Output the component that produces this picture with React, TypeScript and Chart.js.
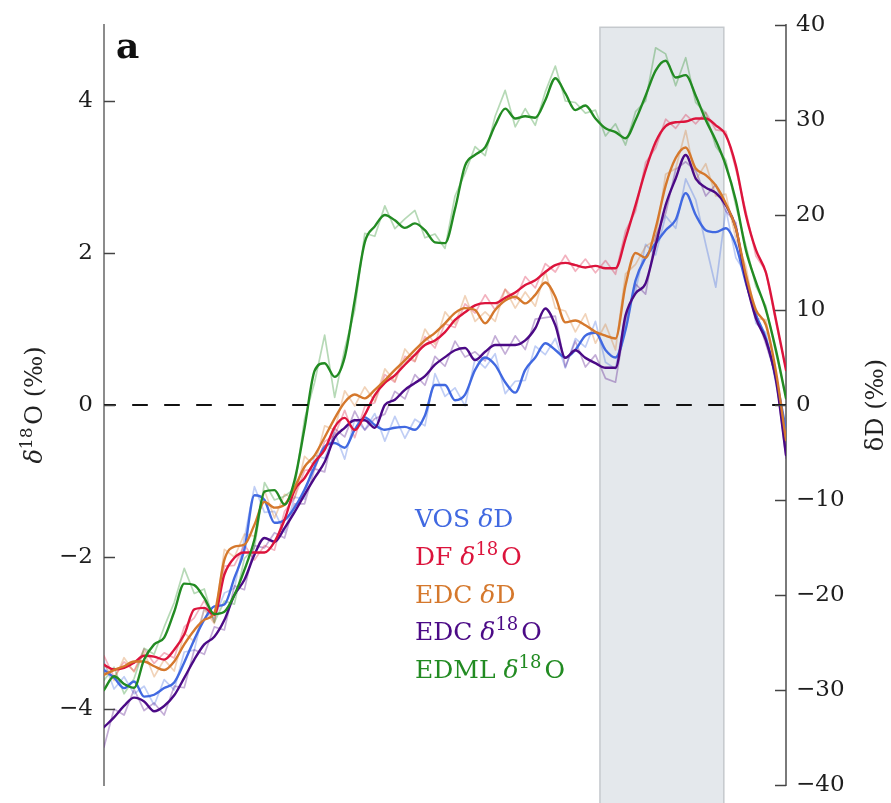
import { useEffect, useRef } from 'react';
import { Chart, registerables } from 'chart.js';

Chart.register(...registerables);

// Sample index along the record (evenly spaced, oldest on the left)
const SAMPLE = [
  0, 1, 2, 3, 4, 5, 6, 7, 8, 9, 10, 11, 12, 13, 14, 15, 16, 17, 18, 19, 20, 21, 22, 23, 24, 25, 26, 27, 28, 29, 30, 31, 32, 33, 34,
  35, 36, 37, 38, 39, 40, 41, 42, 43, 44, 45, 46, 47, 48, 49, 50, 51, 52, 53, 54, 55, 56, 57, 58, 59, 60, 61, 62, 63, 64, 65, 66, 67, 68,
];

// Shaded interval (in sample index) and its upper limit on the δ18O axis
const SHADE_SPAN = [49.45, 61.8];
const SHADE_TOP = 4.97;

const LEFT_TICKS = [-4, -2, 0, 2, 4];
const RIGHT_TICKS = [-40, -30, -20, -10, 0, 10, 20, 30, 40];

// VOS δD (‰)
const VOS_D_RAW = [
  -27.0, -29.9, -28.6, -30.4, -29.6, -31.6, -28.9, -30.0, -26.0, -25.8,
  -21.4, -22.5, -19.8, -19.3, -14.0, -8.6, -11.3, -11.2, -13.4, -9.7,
  -9.9, -5.3, -5.6, -2.9, -5.7, -1.5, -2.6, -0.9, -3.8, -1.2,
  -3.5, -1.5, -2.2, 3.3, 0.9, 1.8, -0.1, 4.9, 3.9, 5.4,
  1.2, 2.5, 2.6, 6.2, 5.3, 7.0, 3.9, 7.0, 6.1, 8.8,
  4.5, 3.8, 9.4, 12.0, 16.9, 15.8, 19.9, 18.6, 23.8, 21.6,
  16.9, 12.4, 20.6, 15.5, 13.8, 8.6, 7.6, 2.2, -3.0,
];
const VOS_D_SMOOTH = [
  -27.9, -28.7, -29.8, -29.1, -30.7, -30.5, -29.8, -29.2, -27.1, -24.7,
  -22.6, -21.2, -21.0, -18.2, -15.2, -9.5, -10.0, -12.4, -12.1, -10.8,
  -8.9, -6.5, -4.4, -4.0, -4.5, -2.6, -1.3, -2.1, -2.6, -2.4,
  -2.3, -2.6, -1.1, 2.1, 2.1, 0.5, 1.1, 3.7, 5.0, 4.2,
  2.4, 1.3, 3.7, 5.0, 6.5, 5.8, 5.0, 5.8, 7.3, 7.6,
  5.8, 5.0, 7.9, 13.1, 15.5, 17.0, 18.4, 19.5, 22.3, 20.0,
  18.4, 18.2, 18.6, 16.8, 12.9, 9.5, 7.0, 2.8, -2.6,
];

// DF δ18O (‰)
const DF_O_RAW = [
  -3.30, -3.58, -3.38, -3.50, -3.21, -3.40, -3.26, -3.33, -2.92, -2.80,
  -2.57, -2.86, -2.12, -2.11, -1.84, -2.04, -1.85, -1.91, -1.40, -1.22,
  -0.86, -0.85, -0.48, -0.40, -0.07, -0.43, -0.02, 0.03, 0.40, 0.30,
  0.64, 0.57, 0.90, 0.75, 1.07, 1.02, 1.33, 1.21, 1.45, 1.25,
  1.52, 1.39, 1.69, 1.54, 1.86, 1.75, 1.97, 1.76, 1.92, 1.74,
  1.90, 1.72, 2.29, 2.55, 3.19, 3.38, 3.76, 3.64, 3.82, 3.70,
  3.85, 3.62, 3.60, 3.10, 2.55, 1.96, 1.76, 1.08, 0.48,
];
const DF_O_SMOOTH = [
  -3.42, -3.48, -3.46, -3.39, -3.30, -3.31, -3.35, -3.22, -3.02, -2.69,
  -2.67, -2.76, -2.23, -2.01, -1.94, -1.94, -1.94, -1.80, -1.51, -1.12,
  -0.96, -0.75, -0.59, -0.29, -0.17, -0.33, -0.13, 0.13, 0.29, 0.39,
  0.53, 0.66, 0.79, 0.85, 0.96, 1.12, 1.22, 1.31, 1.34, 1.34,
  1.41, 1.48, 1.58, 1.64, 1.75, 1.84, 1.87, 1.84, 1.81, 1.83,
  1.80, 1.80, 2.19, 2.63, 3.09, 3.46, 3.67, 3.72, 3.73, 3.77,
  3.77, 3.68, 3.55, 3.15, 2.50, 2.04, 1.74, 1.12, 0.46,
];

// EDC δD (‰)
const EDC_D_RAW = [
  -27.2, -29.0, -26.6, -28.1, -26.0, -28.6, -26.8, -28.0, -24.0, -24.9,
  -21.5, -23.0, -15.2, -16.0, -13.6, -13.8, -9.0, -11.9, -9.4, -9.8,
  -5.4, -6.4, -2.2, -2.6, 1.5, -0.1, 1.9, 0.4, 3.8, 2.5,
  5.9, 4.6, 8.0, 6.4, 9.8, 8.5, 11.5, 8.8, 9.8, 8.8,
  12.2, 10.2, 11.9, 10.4, 14.1, 10.2, 9.9, 7.7, 9.6, 6.5,
  8.5, 5.8, 13.8, 14.8, 16.7, 17.4, 24.3, 24.9, 28.9, 23.7,
  25.4, 22.0, 22.2, 17.5, 14.6, 9.1, 9.0, 3.0, -4.0,
];
const EDC_D_SMOOTH = [
  -28.4, -27.9, -27.5, -27.0, -27.0, -27.5, -27.9, -27.0, -25.2, -23.7,
  -22.6, -21.9, -16.3, -14.9, -14.7, -12.6, -10.2, -10.8, -10.5, -8.7,
  -6.5, -5.3, -3.4, -1.4, 0.3, 1.1, 0.7, 1.6, 2.6, 3.7,
  4.7, 5.8, 6.8, 7.6, 8.6, 9.7, 10.2, 10.0, 8.6, 10.0,
  11.0, 11.4, 10.7, 11.6, 12.9, 11.4, 8.7, 8.9, 8.4, 7.7,
  7.3, 7.0, 12.6, 16.0, 15.5, 18.6, 23.1, 26.0, 27.1, 24.9,
  24.2, 23.1, 21.2, 18.6, 13.7, 10.0, 8.4, 3.5, -3.7,
];

// EDC δ18O (‰)
const EDC_O_RAW = [
  -4.50, -4.00, -4.08, -3.74, -4.02, -3.92, -4.08, -3.70, -3.72, -3.22,
  -3.28, -2.92, -2.96, -2.38, -2.43, -1.85, -1.88, -1.68, -1.75, -1.30,
  -1.30, -0.84, -0.88, -0.31, -0.42, -0.08, -0.33, -0.18, -0.12, 0.18,
  0.08, 0.40, 0.26, 0.64, 0.51, 0.84, 0.63, 0.70, 0.58, 0.91,
  0.67, 0.91, 0.73, 1.13, 1.15, 1.17, 0.50, 0.84, 0.50, 0.66,
  0.35, 0.30, 1.10, 1.59, 1.46, 2.22, 2.52, 3.10, 3.20, 3.08,
  2.75, 2.90, 2.55, 2.40, 1.58, 1.20, 0.80, 0.38, -0.70,
];
const EDC_O_SMOOTH = [
  -4.24, -4.11, -3.96, -3.85, -3.90, -4.03, -3.96, -3.82, -3.59, -3.35,
  -3.15, -3.05, -2.83, -2.50, -2.30, -1.97, -1.75, -1.80, -1.62, -1.41,
  -1.18, -0.96, -0.75, -0.43, -0.30, -0.20, -0.20, -0.30, 0.00, 0.07,
  0.20, 0.29, 0.38, 0.53, 0.63, 0.72, 0.75, 0.59, 0.70, 0.79,
  0.79, 0.79, 0.85, 1.01, 1.27, 1.05, 0.62, 0.72, 0.62, 0.55,
  0.49, 0.49, 1.18, 1.47, 1.60, 2.10, 2.63, 2.98, 3.29, 2.98,
  2.86, 2.79, 2.63, 2.33, 1.64, 1.14, 0.85, 0.33, -0.66,
];

// EDML δ18O (‰)
const EDML_O_RAW = [
  -3.62, -3.45, -3.80, -3.60, -3.20, -3.28, -2.92, -2.60, -2.15, -2.48,
  -2.42, -2.86, -2.58, -2.62, -2.02, -1.88, -1.02, -1.25, -1.20, -1.10,
  -0.18, 0.30, 0.92, 0.10, 0.74, 1.25, 2.26, 2.22, 2.62, 2.32,
  2.45, 2.56, 2.20, 2.25, 2.06, 2.75, 3.05, 3.40, 3.28, 3.80,
  4.14, 3.66, 3.90, 3.68, 4.12, 4.46, 4.00, 3.98, 3.84, 3.88,
  3.54, 3.70, 3.42, 3.86, 4.00, 4.70, 4.62, 4.20, 4.57, 3.98,
  3.84, 3.40, 3.22, 2.62, 2.10, 1.56, 1.30, 0.68, 0.12,
];
const EDML_O_SMOOTH = [
  -3.75, -3.57, -3.67, -3.72, -3.35, -3.15, -3.06, -2.72, -2.35, -2.37,
  -2.54, -2.75, -2.72, -2.50, -2.17, -1.77, -1.14, -1.12, -1.31, -0.99,
  -0.30, 0.45, 0.55, 0.37, 0.63, 1.38, 2.14, 2.35, 2.50, 2.43,
  2.33, 2.39, 2.30, 2.14, 2.13, 2.58, 3.15, 3.29, 3.39, 3.68,
  3.90, 3.77, 3.80, 3.78, 4.01, 4.30, 4.10, 3.88, 3.94, 3.77,
  3.64, 3.59, 3.51, 3.75, 4.07, 4.40, 4.53, 4.31, 4.34, 4.07,
  3.75, 3.48, 3.15, 2.69, 2.04, 1.62, 1.25, 0.72, 0.09,
];

const ZERO_LINE = [0, 0];

const FONT = '"DejaVu Serif", "Liberation Serif", serif';

type Seg = { t: string; italic?: boolean; sup?: boolean };

const RECORDS = [
  { key: 'vos', color: '#4169e1', raw: VOS_D_RAW, smooth: VOS_D_SMOOTH, axis: 'y2', order: 5,
    label: [{ t: 'VOS ' }, { t: 'δ', italic: true }, { t: 'D' }] as Seg[] },
  { key: 'df', color: '#dc143c', raw: DF_O_RAW, smooth: DF_O_SMOOTH, axis: 'y', order: 3,
    label: [{ t: 'DF ' }, { t: 'δ', italic: true }, { t: '18', sup: true }, { t: 'O' }] as Seg[] },
  { key: 'edcd', color: '#d5782c', raw: EDC_D_RAW, smooth: EDC_D_SMOOTH, axis: 'y2', order: 2,
    label: [{ t: 'EDC ' }, { t: 'δ', italic: true }, { t: 'D' }] as Seg[] },
  { key: 'edco', color: '#4b0a86', raw: EDC_O_RAW, smooth: EDC_O_SMOOTH, axis: 'y', order: 4,
    label: [{ t: 'EDC ' }, { t: 'δ', italic: true }, { t: '18', sup: true }, { t: 'O' }] as Seg[] },
  { key: 'edml', color: '#228b22', raw: EDML_O_RAW, smooth: EDML_O_SMOOTH, axis: 'y', order: 1,
    label: [{ t: 'EDML ' }, { t: 'δ', italic: true }, { t: '18', sup: true }, { t: 'O' }] as Seg[] },
];

function hexAlpha(hex: string, a: number) {
  const n = parseInt(hex.slice(1), 16);
  return `rgba(${(n >> 16) & 255},${(n >> 8) & 255},${n & 255},${a})`;
}

function toPoints(vals: number[]) {
  return vals.map((y, i) => ({ x: SAMPLE[i], y }));
}

function segFont(s: Seg, size: number) {
  return `${s.italic ? 'italic ' : ''}${s.sup ? Math.round(size * 0.7) : size}px ${FONT}`;
}

function drawSegs(ctx: CanvasRenderingContext2D, segs: Seg[], x: number, y: number, size: number, color: string, align: 'left' | 'center') {
  ctx.save();
  ctx.fillStyle = color;
  ctx.textBaseline = 'alphabetic';
  ctx.textAlign = 'left';
  let total = 0;
  const widths = segs.map((s) => {
    ctx.font = segFont(s, size);
    const w = ctx.measureText(s.t).width + (s.sup ? size * 0.12 : 0);
    total += w;
    return w;
  });
  let cx = align === 'center' ? x - total / 2 : x;
  segs.forEach((s, i) => {
    ctx.font = segFont(s, size);
    ctx.fillText(s.t, cx, s.sup ? y - size * 0.4 : y);
    cx += widths[i];
  });
  ctx.restore();
}

const fmtTick = (v: number) => (v < 0 ? '\u2212' + Math.abs(v) : String(v));

const shadePlugin = {
  id: 'shadeInterval',
  beforeDatasetsDraw(chart: any) {
    const { ctx } = chart;
    const xs = chart.scales.x;
    const ys = chart.scales.y;
    const x0 = xs.getPixelForValue(SHADE_SPAN[0]);
    const x1 = xs.getPixelForValue(SHADE_SPAN[1]);
    const yTop = ys.getPixelForValue(SHADE_TOP);
    const yBot = chart.height + 2;
    ctx.save();
    ctx.fillStyle = '#e4e8ec';
    ctx.fillRect(x0, yTop, x1 - x0, yBot - yTop);
    ctx.strokeStyle = '#c5c9cd';
    ctx.lineWidth = 1.5;
    ctx.strokeRect(x0, yTop, x1 - x0, yBot - yTop);
    ctx.restore();
  },
};

const decorPlugin = {
  id: 'decor',
  afterDraw(chart: any) {
    const { ctx, chartArea } = chart;
    const yL = chart.scales.y;
    const yR = chart.scales.y2;

    // inward tick marks
    ctx.save();
    ctx.strokeStyle = '#444';
    ctx.lineWidth = 1.5;
    yL.ticks.forEach((t: any) => {
      const py = Math.round(yL.getPixelForValue(t.value)) + 0.5;
      ctx.beginPath();
      ctx.moveTo(chartArea.left, py);
      ctx.lineTo(chartArea.left + 11, py);
      ctx.stroke();
    });
    yR.ticks.forEach((t: any) => {
      const py = Math.round(yR.getPixelForValue(t.value)) + 0.5;
      ctx.beginPath();
      ctx.moveTo(chartArea.right, py);
      ctx.lineTo(chartArea.right - 11, py);
      ctx.stroke();
    });
    ctx.restore();

    // axis titles
    const midY = (chartArea.top + chartArea.bottom) / 2;
    ctx.save();
    ctx.translate(chartArea.left - 62, midY);
    ctx.rotate(-Math.PI / 2);
    drawSegs(ctx, [{ t: 'δ', italic: true }, { t: '18', sup: true }, { t: 'O (‰)' }], 0, 0, 24, '#222', 'center');
    ctx.restore();

    ctx.save();
    ctx.translate(chartArea.right + 97, midY);
    ctx.rotate(-Math.PI / 2);
    drawSegs(ctx, [{ t: 'δD (‰)' }], 0, 0, 24, '#222', 'center');
    ctx.restore();

    // panel letter
    ctx.save();
    ctx.fillStyle = '#111';
    ctx.font = `bold 36px ${FONT}`;
    ctx.textBaseline = 'alphabetic';
    ctx.fillText('a', chartArea.left + 12, chartArea.top + 33);
    ctx.restore();

    // coloured legend text
    RECORDS.forEach((r, i) => {
      drawSegs(ctx, r.label, 415, 527 + i * 37.8, 25, r.color, 'left');
    });
  },
};

export default function App() {
  const canvasRef = useRef<HTMLCanvasElement | null>(null);

  useEffect(() => {
    const canvas = canvasRef.current;
    if (!canvas) return;

    const rawSets = RECORDS.map((r) => ({
      label: r.key + '-raw',
      data: toPoints(r.raw),
      yAxisID: r.axis,
      borderColor: hexAlpha(r.color, 0.33),
      borderWidth: 1.7,
      tension: 0,
      pointRadius: 0,
      order: 10 + r.order,
    }));
    const smoothSets = RECORDS.map((r) => ({
      label: r.key,
      data: toPoints(r.smooth),
      yAxisID: r.axis,
      borderColor: r.color,
      borderWidth: 2.4,
      cubicInterpolationMode: 'monotone' as const,
      pointRadius: 0,
      order: r.order,
    }));
    const zeroSet = {
      label: 'zero',
      data: [
        { x: SAMPLE[0], y: ZERO_LINE[0] },
        { x: SAMPLE[SAMPLE.length - 1], y: ZERO_LINE[1] },
      ],
      yAxisID: 'y',
      borderColor: '#111',
      borderWidth: 2.2,
      borderDash: [14, 18],
      borderDashOffset: 3,
      pointRadius: 0,
      order: 0,
    };

    const tickFont = { family: FONT, size: 23 };
    const noPad = (s: any) => { s.paddingTop = 0; s.paddingBottom = 0; };

    const chart = new Chart(canvas, {
      type: 'line',
      data: { datasets: [...rawSets, ...smoothSets, zeroSet] as any },
      options: {
        animation: false,
        responsive: false,
        maintainAspectRatio: false,
        devicePixelRatio: 1,
        layout: { padding: { top: 25, bottom: 18, left: 0, right: 0 } },
        plugins: { legend: { display: false }, tooltip: { enabled: false } },
        elements: { point: { radius: 0 }, line: { borderCapStyle: 'round', borderJoinStyle: 'round' } },
        scales: {
          x: { type: 'linear', min: SAMPLE[0], max: SAMPLE[SAMPLE.length - 1], display: false },
          y: {
            type: 'linear',
            position: 'left',
            min: -5,
            max: 5,
            afterFit: (s: any) => { s.width = 104; noPad(s); },
            afterBuildTicks: (s: any) => { s.ticks = LEFT_TICKS.map((v) => ({ value: v })); },
            grid: { drawOnChartArea: false, drawTicks: false },
            border: { display: true, color: '#8c8c8c', width: 2 },
            ticks: { font: tickFont, color: '#1e1e1e', padding: 11, autoSkip: false, callback: (v: any) => fmtTick(Number(v)) },
          },
          y2: {
            type: 'linear',
            position: 'right',
            min: -40,
            max: 40,
            afterFit: (s: any) => { s.width = 105; noPad(s); },
            afterBuildTicks: (s: any) => { s.ticks = RIGHT_TICKS.map((v) => ({ value: v })); },
            grid: { drawOnChartArea: false, drawTicks: false },
            border: { display: true, color: '#7a7a7a', width: 2 },
            ticks: { font: tickFont, color: '#1e1e1e', padding: 10, autoSkip: false, callback: (v: any) => fmtTick(Number(v)) },
          },
        },
      } as any,
      plugins: [shadePlugin, decorPlugin],
    });

    return () => chart.destroy();
  }, []);

  return (
    <div style={{ position: 'absolute', left: 0, top: 0, width: 891, height: 803, background: '#fff' }}>
      <canvas ref={canvasRef} width={891} height={803} style={{ display: 'block' }} />
    </div>
  );
}
